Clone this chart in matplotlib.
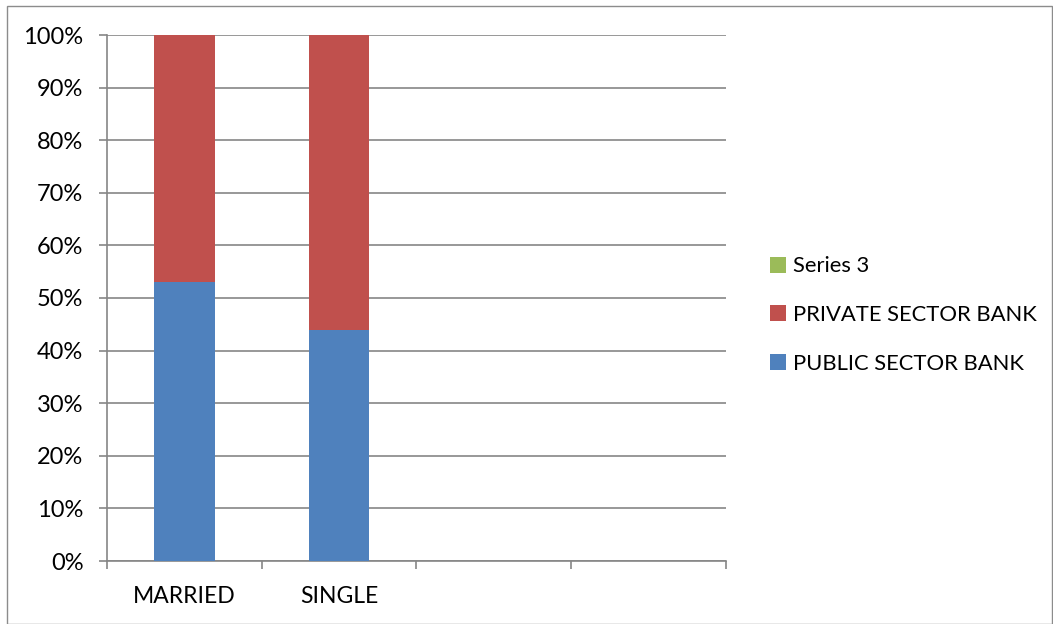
import numpy as np
import matplotlib
matplotlib.use("Agg")
import matplotlib.pyplot as plt
from matplotlib.patches import Rectangle

plt.rcParams['font.family'] = ['Lato', 'DejaVu Sans']

categories = ['MARRIED', 'SINGLE', '', '']
public = [53, 44, 0, 0]
private = [47, 56, 0, 0]
series3 = [0, 0, 0, 0]
yticks = [0, 10, 20, 30, 40, 50, 60, 70, 80, 90, 100]

blue = '#4F81BD'
red = '#C0504D'
green = '#9BBB59'
grid = '#868686'
txt = '#000000'

fig = plt.figure(figsize=(10.53, 6.24), dpi=100)
# outer chart frame
fig.patches.append(Rectangle((7 / 1053, 0.0), 1 - 8 / 1053, 1 - 6 / 624,
                             transform=fig.transFigure, fill=False,
                             edgecolor='#8c8c8c', lw=1.0))

ax = fig.add_axes([107 / 1053, 1 - 561 / 624, 619 / 1053, 526 / 624])

x = np.arange(len(categories))
w = 0.39
b1 = ax.bar(x, public, w, color=blue, label='PUBLIC SECTOR BANK', zorder=3)
b2 = ax.bar(x, private, w, bottom=public, color=red,
            label='PRIVATE SECTOR BANK', zorder=3)
b3 = ax.bar(x, series3, w, bottom=np.add(public, private), color=green,
            label='Series 3', zorder=3)

ax.set_xlim(-0.5, len(categories) - 0.5)
ax.set_ylim(0, 100)
ax.set_yticks(yticks)
ax.set_yticklabels([f'{v}%' for v in yticks], fontsize=17, color=txt)
ax.yaxis.grid(True, color=grid, lw=1.2, zorder=0)

ax.set_xticks(x)
ax.set_xticklabels(categories, fontsize=16.5, color=txt)
ax.set_xticks(np.arange(len(categories) + 1) - 0.5, minor=True)
ax.tick_params(axis='x', which='major', length=0, pad=18)
ax.tick_params(axis='x', which='minor', length=6, color=grid, width=1.2)
ax.tick_params(axis='y', length=6, color=grid, width=1.2, pad=11)

for s in ['top', 'right']:
    ax.spines[s].set_visible(False)
for s in ['left', 'bottom']:
    ax.spines[s].set_color(grid)
    ax.spines[s].set_linewidth(1.2)

handles = [b3, b2, b1]
labels = ['Series 3', 'PRIVATE SECTOR BANK', 'PUBLIC SECTOR BANK']
fig.legend(handles, labels, loc='center left',
           bbox_to_anchor=(750 / 1053, 1 - 315 / 624), frameon=False,
           fontsize=15.8, handlelength=0.75, handleheight=0.75,
           handletextpad=0.3, labelspacing=1.3, labelcolor=txt)

fig.savefig('out.png', dpi=100)
